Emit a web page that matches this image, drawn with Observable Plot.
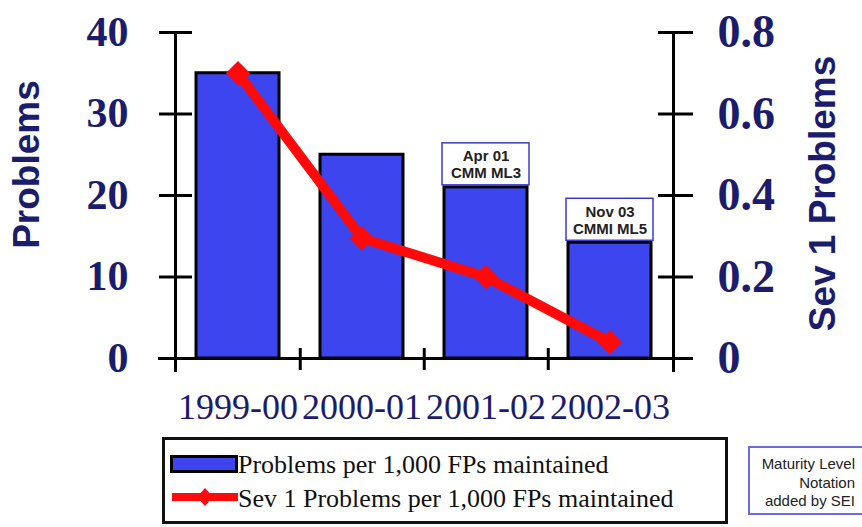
<!DOCTYPE html>
<html><head><meta charset="utf-8">
<script src="https://cdn.jsdelivr.net/npm/d3@7"></script>
<script src="https://cdn.jsdelivr.net/npm/@observablehq/plot@0.6"></script>
<style>
html,body{margin:0;padding:0;background:#fff;}
body{width:862px;height:527px;overflow:hidden;position:relative;}
#chart{position:absolute;left:0;top:0;}
#legend{position:absolute;left:162px;top:437px;width:560px;height:81px;border:3px solid #111;background:#fff;font-family:"Liberation Serif",serif;font-size:26px;color:#111;}
#legend .item{position:absolute;left:0;white-space:nowrap;}
#legend svg{position:absolute;left:5px;}
#legend span{position:absolute;left:73px;line-height:1;}
#sei{position:absolute;left:748px;top:446px;width:120px;height:69px;border:2px solid #6c6ce0;background:#fff;font-family:"Liberation Sans",Arial,sans-serif;font-size:15px;line-height:18.5px;color:#222;text-align:right;box-sizing:border-box;padding:7px 11px 0 0;}
</style></head><body>
<div id="chart"></div>
<div id="legend"></div>
<div id="sei"></div>
<script>
// ---- data ----
const categories = ["1999-00", "2000-01", "2001-02", "2002-03"];
const problems = [35, 25, 21, 14.2];
const sev1 = [0.70, 0.295, 0.20, 0.04];
const notes = ["", "", "Apr 01\nCMM ML3", "Nov 03\nCMMI ML5"];
const leftTicks = [0, 10, 20, 30, 40];
const rightTicks = [0, 0.2, 0.4, 0.6, 0.8];
const seriesNames = ["Problems per 1,000 FPs maintained", "Sev 1 Problems per 1,000 FPs maintained"];
const leftTitle = "Problems";
const rightTitle = "Sev 1 Problems";
const seiNote = ["Maturity Level", "Notation", "added by SEI"];

// ---- styles ----
const navy = "#1c1c6c";
const barBlue = "#3d45ee";
const red = "#ff0a0a";
const W = 862, H = 434, mL = 175, mR = 189;
const step = (W - mL - mR) / categories.length;
const ratio = d3.max(leftTicks) / d3.max(rightTicks);

const data = categories.map((c, i) => ({cat: c, problems: problems[i], sev1: sev1[i] * ratio, note: notes[i]}));
const noted = data.filter(d => d.note);
const rightTickPos = rightTicks.map(v => v * ratio);

const plot = Plot.plot({
  width: W, height: H,
  marginLeft: mL, marginRight: mR, marginTop: 32, marginBottom: 76,
  style: {background: "transparent", overflow: "visible"},
  x: {type: "band", domain: categories, paddingInner: 0.33, paddingOuter: 0.165},
  y: {domain: [0, d3.max(leftTicks)]},
  marks: [
    Plot.barY(data, {x: "cat", y: "problems", fill: barBlue, stroke: "#000", strokeWidth: 3}),
    Plot.frame({anchor: "left", stroke: "#000", strokeWidth: 3, insetBottom: -12}),
    Plot.frame({anchor: "right", stroke: "#000", strokeWidth: 3, insetBottom: -12}),
    Plot.ruleY([0], {stroke: "#000", strokeWidth: 3, insetLeft: -17, insetRight: -17}),
    // left axis: ticks crossing the axis line, then labels
    Plot.axisY({anchor: "left", ticks: leftTicks, tickSize: 33, dx: 17, fill: "none", label: null, stroke: "#000", strokeWidth: 3}),
    Plot.axisY({anchor: "left", ticks: leftTicks, tickSize: 0, tickPadding: 47, label: null, fontFamily: "Liberation Serif", fontWeight: "bold", fontSize: 42, fill: navy}),
    // right axis
    Plot.axisY({anchor: "right", ticks: rightTickPos, tickSize: 35, dx: -16, fill: "none", label: null, stroke: "#000", strokeWidth: 3}),
    Plot.axisY({anchor: "right", ticks: rightTickPos, tickFormat: d => String(+(d / ratio).toFixed(2)), tickSize: 0, tickPadding: 44, label: null, fontFamily: "Liberation Serif", fontWeight: "bold", fontSize: 46, fill: navy}),
    // x axis: ticks between categories, then labels
    Plot.axisX({anchor: "bottom", ticks: categories.slice(0, -1), tickSize: 22, dy: -10, dx: step / 2, fill: "none", label: null, stroke: "#000", strokeWidth: 3}),
    Plot.axisX({anchor: "bottom", ticks: categories, tickSize: 0, tickPadding: 35, label: null, fontFamily: "Liberation Serif", fontSize: 36, fill: navy}),
    Plot.text([leftTitle], {frameAnchor: "left", textAnchor: "middle", text: d => d, rotate: -90, dx: -148, dy: -31, fontFamily: "Liberation Sans", fontWeight: "bold", fontSize: 37, fill: navy}),
    Plot.text([rightTitle], {frameAnchor: "right", textAnchor: "middle", text: d => d, rotate: -90, dx: 150, dy: -2, fontFamily: "Liberation Sans", fontWeight: "bold", fontSize: 37, fill: navy}),
    Plot.line(data, {x: "cat", y: "sev1", stroke: red, strokeWidth: 10}),
    Plot.dot(data, {x: "cat", y: "sev1", symbol: "diamond2", fill: red, stroke: "none", r: 11}),
    Plot.barY(noted, {x: "cat", y1: "problems", y2: "problems", insetTop: -44, insetBottom: 2, insetLeft: -2, insetRight: -2, fill: "#fff", stroke: "#3a3acc", strokeWidth: 1.5}),
    Plot.text(noted, {x: "cat", y: "problems", text: "note", lineAnchor: "bottom", dy: -9, lineHeight: 1.15, fontFamily: "Liberation Sans", fontWeight: "bold", fontSize: 15, fill: "#222"})
  ]
});
document.getElementById("chart").appendChild(plot);

// legend (HTML)
const lg = document.getElementById("legend");
lg.innerHTML = `
<div class="item" style="top:0">
  <svg width="70" height="20" style="top:15px"><rect x="1.5" y="1.5" width="65" height="15" fill="${barBlue}" stroke="#000" stroke-width="3"/></svg>
  <span style="top:12px">${seriesNames[0]}</span>
</div>
<div class="item" style="top:0">
  <svg width="70" height="30" style="top:42px"><line x1="2" x2="68" y1="15" y2="15" stroke="${red}" stroke-width="8"/><path d="M35,6 L43,15 L35,24 L27,15 Z" fill="${red}"/></svg>
  <span style="top:46px">${seriesNames[1]}</span>
</div>`;
document.getElementById("sei").innerHTML = seiNote.join("<br>");
</script>
</body></html>
